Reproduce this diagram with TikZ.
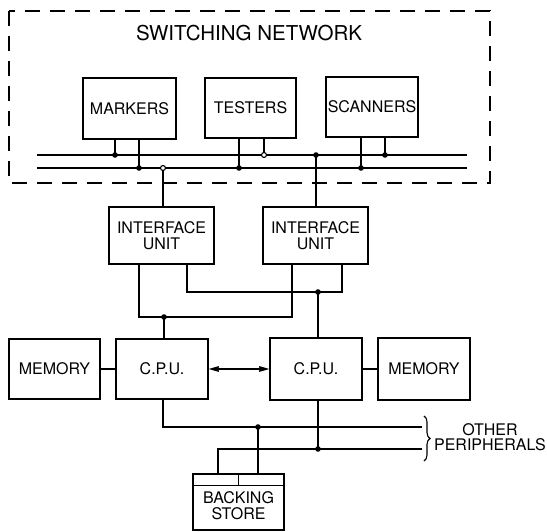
\documentclass[tikz,border=0pt]{standalone}
\usepackage{fontspec}
\setmainfont{TeX Gyre Heros}
\usetikzlibrary{arrows.meta,decorations.pathreplacing}
\begin{document}
\begin{tikzpicture}[x=1pt,y=-1pt,line width=1.4pt,
  box/.style={draw,inner sep=0pt,align=center,font=\fontsize{16}{15.5}\selectfont},
  lbl/.style={inner sep=0pt,align=center,font=\fontsize{16}{15.5}\selectfont},
  dot/.style={fill=black},
  odot/.style={draw,fill=white,line width=1.1pt},
  frame/.style={draw,dash pattern=on 15pt off 10pt},
  barb/.tip={Stealth[length=19pt,width=11pt,inset=12pt]}]
\useasboundingbox (0,0) rectangle (547,532);
% switching network frame
\draw[frame] (9,11) rectangle (490,183);
\node[lbl,font=\fontsize{20.5}{20}\selectfont] (title) at (249,33) {SWITCHING NETWORK};
\node[box,minimum width=93pt,minimum height=61pt] (mk) at (129.5,108.5) {MARKERS};
\node[box,minimum width=91pt,minimum height=60pt] (ts) at (250.5,108) {TESTERS};
\node[box,minimum width=92pt,minimum height=60pt] (sc) at (372,107) {SCANNERS};
% buses
\coordinate (b1w) at (37,155); \coordinate (b1e) at (467,155);
\coordinate (b2w) at (37,168); \coordinate (b2e) at (467,168);
\draw (b1w) -- (b1e);
\draw (b2w) -- (b2e);
\coordinate (d1) at (115,155);
\coordinate (d2) at (139,168);
\coordinate (o1) at (163,168);
\coordinate (d3) at (239,168);
\coordinate (o2) at (264,155);
\coordinate (d4) at (316,155);
\coordinate (d5) at (361,168);
\coordinate (d6) at (385,155);
% interface units
\node[box,minimum width=105pt,minimum height=57pt] (if1) at (161.5,235.5) {INTERFACE\\UNIT};
\node[box,minimum width=105pt,minimum height=57pt] (if2) at (315.5,235.5) {INTERFACE\\UNIT};
\draw (mk.south -| d1) -- (d1);
\draw (mk.south -| d2) -- (d2);
\draw (ts.south -| d3) -- (d3);
\draw (ts.south -| o2) -- (o2);
\draw (sc.south -| d5) -- (d5);
\draw (sc.south -| d6) -- (d6);
\draw (o1) -- (if1.north -| o1);
\draw (d4) -- (if2.north -| d4);
% cpus and memories
\node[box,minimum width=91pt,minimum height=60pt] (mem1) at (54.5,369) {MEMORY};
\node[box,minimum width=92pt,minimum height=60pt] (cpu1) at (162,369) {C.P.U.};
\node[box,minimum width=92pt,minimum height=62pt] (cpu2) at (316,369) {C.P.U.};
\node[box,minimum width=92pt,minimum height=62pt] (mem2) at (424,369) {MEMORY};
\draw (mem1) -- (cpu1);
\draw (cpu2) -- (mem2);
\draw[barb-barb] (cpu1) -- (cpu2);
% middle crossover
\coordinate (m1) at (139,317); \coordinate (m3) at (292,317);
\coordinate (m2) at (187,292); \coordinate (m4) at (342,292);
\coordinate (d7) at (164,317); \coordinate (d8) at (318,292);
\draw (if1.south -| m1) -- (m1) -- (m3) -- (if2.south -| m3);
\draw (if1.south -| m2) -- (m2) -- (m4) -- (if2.south -| m4);
\draw (d7) -- (cpu1.north -| d7);
\draw (d8) -- (cpu2.north -| d8);
% backing store
\node[draw,inner sep=0pt,minimum width=91pt,minimum height=56pt] (bs) at (238.5,502) {};
\draw ([yshift=-12pt]bs.north west) -- ([yshift=-12pt]bs.north east);
\draw (bs.north) -- ([yshift=-12pt]bs.north);
\node[lbl] (bst) at (238.5,505.5) {BACKING\\STORE};
% peripheral buses
\coordinate (pa) at (163,427); \coordinate (pae) at (422,427);
\coordinate (pb) at (218,449); \coordinate (pbe) at (422,449);
\coordinate (d9) at (258,427); \coordinate (d10) at (318,449);
\draw (cpu1.south -| pa) -- (pa) -- (pae);
\draw (bs.north -| pb) -- (pb) -- (pbe);
\draw (d9) -- (bs.north -| d9);
\draw (cpu2.south -| d10) -- (d10);
\coordinate (brt) at (424,416); \coordinate (brb) at (424,461);
\draw[line width=1.1pt,decorate,decoration={brace,amplitude=6pt}] (brt) -- (brb);
\node[lbl] (oth) at (490,437) {OTHER\\PERIPHERALS};
% dots
\foreach \p in {d1,d2,d3,d4,d5,d6,d7,d8,d9,d10} \fill[dot] (\p) circle (2.8pt);
\foreach \p in {o1,o2} \filldraw[odot] (\p) circle (2.5pt);
\end{tikzpicture}
\end{document}
